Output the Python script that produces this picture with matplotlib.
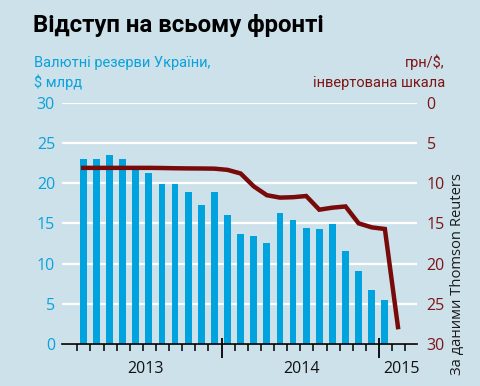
import matplotlib
matplotlib.use("Agg")
import matplotlib.pyplot as plt
import matplotlib.transforms as mtransforms
import numpy as np

# ---- data ----
reserves = [23.0, 23.0, 23.5, 23.0, 22.0, 21.3, 19.9, 19.9, 18.9, 17.25, 18.9, 16.0,
            13.7, 13.4, 12.5, 16.3, 15.4, 14.4, 14.3, 14.9, 11.6, 9.1, 6.7, 5.5]
uah_usd = [8.1, 8.1, 8.1, 8.1, 8.1, 8.1, 8.12, 8.15, 8.17, 8.18, 8.2, 8.35,
           8.8, 10.4, 11.5, 11.8, 11.75, 11.6, 13.3, 13.05, 12.9, 15.0, 15.5, 15.7, 27.9]
year_labels = ["2013", "2014", "2015"]
left_ticks = [0, 5, 10, 15, 20, 25, 30]
right_ticks = [0, 5, 10, 15, 20, 25, 30]

BG = "#cde1ea"
BAR = "#00a3dd"
LINE = "#780a0a"
BLUE_TXT = "#0aa2da"
RED_TXT = "#7e1515"

COND = ["Liberation Sans Narrow", "Roboto", "DejaVu Sans"]
SANS = ["Open Sans", "DejaVu Sans"]

fig = plt.figure(figsize=(4.8, 3.86), dpi=100, facecolor=BG)
ax = fig.add_axes([62/480, 42/386, (417-62)/480, (344-102.7)/386])
ax.set_facecolor(BG)

# months from Jan 2013 (index), bars centred in months Feb 2013 .. Jan 2015
bx = np.arange(len(reserves)) + 1.45
lx = np.arange(len(uah_usd)) + 1.45

ax.bar(bx, reserves, width=0.52, color=BAR, zorder=2)
ax.set_ylim(0, 30)
ax.set_xlim(-0.17, 26.9)
ax.set_yticks(left_ticks)
ax.yaxis.grid(True, color="white", linewidth=1.6, zorder=1)
ax.set_axisbelow(True)
ax.tick_params(axis="y", length=0, pad=5, labelcolor=BLUE_TXT, labelsize=11.5)
for lab in ax.get_yticklabels():
    lab.set_family(SANS)
for s in ["top", "left", "right"]:
    ax.spines[s].set_visible(False)
ax.spines["bottom"].set_color("black")
ax.spines["bottom"].set_linewidth(1.2)
ax.spines["bottom"].set_zorder(5)

# x ticks: monthly minor, yearly major
ax.set_xticks([12, 24])
ax.set_xticklabels([])
ax.set_xticks(np.arange(1, 27), minor=True)
ax.tick_params(axis="x", which="minor", length=5, width=1.1, direction="out", color="black")
ax.tick_params(axis="x", which="major", length=10, width=1.3, direction="out", color="black")

# year labels
trans = mtransforms.blended_transform_factory(ax.transData, fig.transFigure)
for xpos, lab in zip([6.2, 18.1, 25.75], year_labels):
    fig.text(xpos, (386-369)/386, lab, transform=trans, ha="center", va="center",
             fontsize=11.5, family=SANS, color="#111111")

# right axis (inverted)
ax2 = ax.twinx()
ax2.set_ylim(30, 0)
ax2.set_yticks(right_ticks)
ax2.tick_params(axis="y", length=0, pad=7, labelcolor=RED_TXT, labelsize=11.5)
for lab in ax2.get_yticklabels():
    lab.set_family(SANS)
for s in ax2.spines.values():
    s.set_visible(False)
# upward part of the yearly ticks
ax2.xaxis.set_visible(True)
ax2.tick_params(axis="x", which="major", direction="in", length=4, width=1.3,
                color="black", labelbottom=False, bottom=True, top=False)
ax2.tick_params(axis="x", which="minor", length=0, labelbottom=False)
ax2.plot(lx, uah_usd, color=LINE, linewidth=3.2, solid_joinstyle="miter", zorder=4, clip_on=False)

# titles
fig.text(33/480, (386-32)/386, "Відступ на всьому фронті", fontsize=17.3, fontweight="bold",
         family=COND, color="black", va="baseline", ha="left")
fig.text(34/480, (386-66.5)/386, "Валютні резерви України,", fontsize=10.5, family=COND,
         color=BLUE_TXT, va="baseline", ha="left")
fig.text(34/480, (386-86.7)/386, "$ млрд", fontsize=10.5, family=COND,
         color=BLUE_TXT, va="baseline", ha="left")
fig.text(445/480, (386-66.5)/386, "грн/$,", fontsize=10.5, family=COND,
         color=RED_TXT, va="baseline", ha="right")
fig.text(445/480, (386-86.7)/386, "інвертована шкала", fontsize=10.5, family=COND,
         color=RED_TXT, va="baseline", ha="right")

# source
fig.text(458/480, (386-375)/386, "За даними Thomson Reuters", rotation=90, fontsize=10.6,
         family=SANS, color="#1a1a1a", ha="center", va="bottom")

fig.savefig("out.png", dpi=100, facecolor=BG)
